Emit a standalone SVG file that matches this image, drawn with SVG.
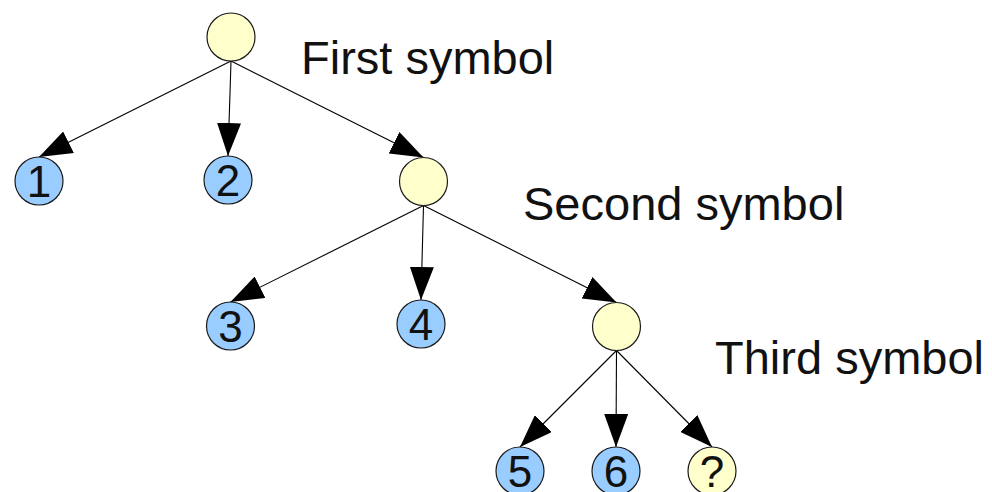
<svg xmlns="http://www.w3.org/2000/svg" width="992" height="492" viewBox="0 0 992 492">
<style>
.sym{fill:#ffffcc;stroke:#1a1a1a;stroke-width:1.2}
.leaf{fill:#99ccff;stroke:#1a1a1a;stroke-width:1.2}
.edge{stroke:#000;stroke-width:1.1;fill:none;marker-end:url(#ah)}
.lbl{font-family:"Liberation Sans",Arial,sans-serif;font-size:47px;fill:#111}
.num{font-family:"Liberation Sans",Arial,sans-serif;font-size:44px;fill:#111;text-anchor:middle}
</style>
<defs>
<marker id="ah" markerUnits="userSpaceOnUse" markerWidth="34" markerHeight="24" refX="33" refY="12" orient="auto" viewBox="0 0 34 24">
<path d="M0,0 L33,12 L0,24 z" fill="#000"/>
</marker>
</defs>
<g id="connectors">
<line class="edge" x1="231" y1="61" x2="39" y2="157"/>
<line class="edge" x1="231" y1="61" x2="228" y2="156"/>
<line class="edge" x1="231" y1="61" x2="423.5" y2="157.5"/>
<line class="edge" x1="423.5" y1="205.5" x2="230.5" y2="302"/>
<line class="edge" x1="423.5" y1="205.5" x2="421" y2="300"/>
<line class="edge" x1="423.5" y1="205.5" x2="616.5" y2="302.5"/>
<line class="edge" x1="616.5" y1="350.5" x2="520" y2="447"/>
<line class="edge" x1="616.5" y1="350.5" x2="616" y2="447"/>
<line class="edge" x1="616.5" y1="350.5" x2="712" y2="447"/>
</g>
<g id="root"><circle class="sym" cx="231" cy="37" r="24"/></g>
<g id="label1"><text class="lbl" x="301" y="74">First symbol</text></g>
<g id="n1"><circle class="leaf" cx="39" cy="181" r="24"/><text class="num" x="39" y="197">1</text></g>
<g id="n2"><circle class="leaf" cx="228" cy="180" r="24"/><text class="num" x="228" y="196">2</text></g>
<g id="second"><circle class="sym" cx="423.5" cy="181.5" r="24"/></g>
<g id="label2"><text class="lbl" x="523" y="220">Second symbol</text></g>
<g id="n3"><circle class="leaf" cx="230.5" cy="326" r="24"/><text class="num" x="230.5" y="342">3</text></g>
<g id="n4"><circle class="leaf" cx="421" cy="324" r="24"/><text class="num" x="421" y="340">4</text></g>
<g id="third"><circle class="sym" cx="616.5" cy="326.5" r="24"/></g>
<g id="label3"><text class="lbl" x="715" y="374">Third symbol</text></g>
<g id="n5"><circle class="leaf" cx="520" cy="471" r="24"/><text class="num" x="520" y="487">5</text></g>
<g id="n6"><circle class="leaf" cx="616" cy="471" r="24"/><text class="num" x="616" y="487">6</text></g>
<g id="nq"><circle class="sym" cx="712" cy="471" r="24"/><text class="num" x="712" y="487">?</text></g>
</svg>
